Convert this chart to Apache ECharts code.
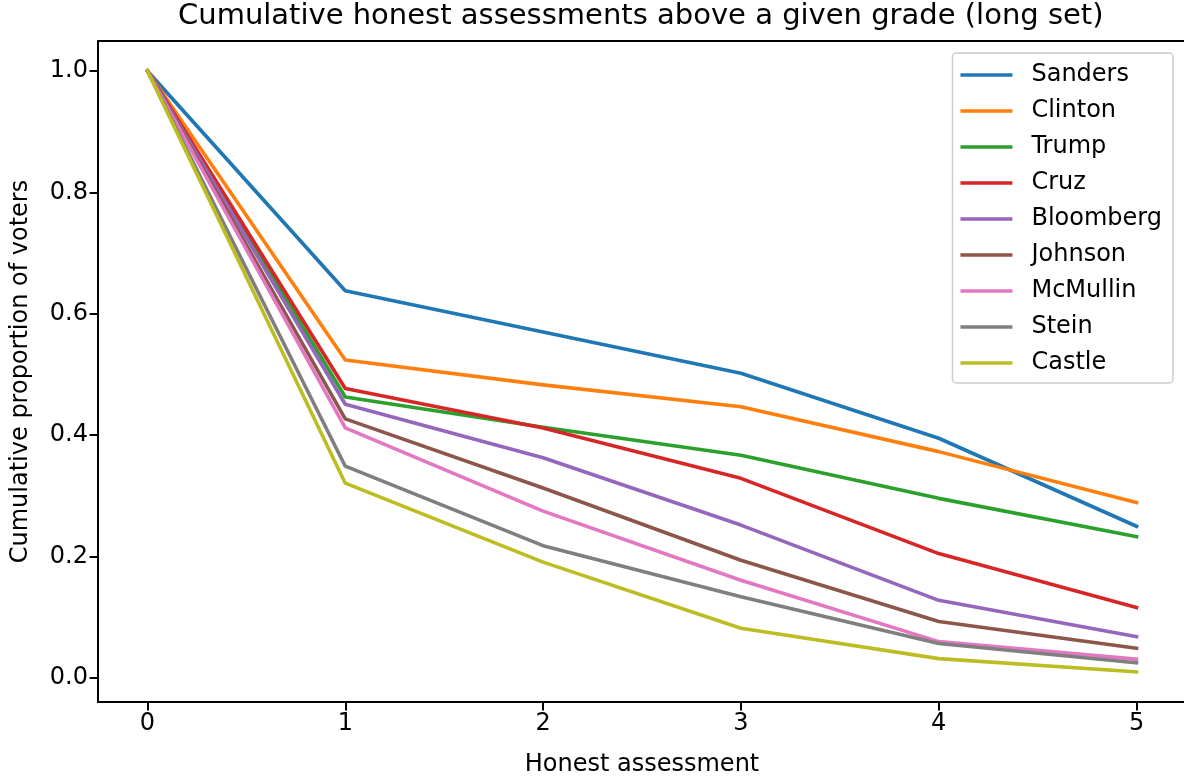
<!DOCTYPE html>
<html>
<head>
<meta charset="utf-8">
<script src="https://cdn.jsdelivr.net/npm/echarts@6/dist/echarts.min.js"></script>
<style>
  html, body { margin: 0; padding: 0; background: #fff; overflow: hidden; }
  #chart { width: 1184px; height: 776px; }
</style>
</head>
<body>
<div id="chart"></div>
<script>
  // grades on the x axis
  var grades = [0, 1, 2, 3, 4, 5]
  var yTicks = [0, 0.2, 0.4, 0.6, 0.8, 1.0]

  var candidates = ['Sanders', 'Clinton', 'Trump', 'Cruz', 'Bloomberg', 'Johnson', 'McMullin', 'Stein', 'Castle']

  var sanders = [1, 0.638, 0.570, 0.502, 0.395, 0.250]
  var clinton = [1, 0.524, 0.483, 0.447, 0.373, 0.289]
  var trump = [1, 0.463, 0.413, 0.367, 0.296, 0.233]
  var cruz = [1, 0.477, 0.412, 0.329, 0.205, 0.116]
  var bloomberg = [1, 0.451, 0.363, 0.252, 0.128, 0.068]
  var johnson = [1, 0.427, 0.313, 0.194, 0.093, 0.049]
  var mcmullin = [1, 0.412, 0.275, 0.161, 0.060, 0.031]
  var stein = [1, 0.349, 0.218, 0.134, 0.057, 0.025]
  var castle = [1, 0.321, 0.191, 0.082, 0.032, 0.010]

  var values = [sanders, clinton, trump, cruz, bloomberg, johnson, mcmullin, stein, castle]
  var colors = ['#1f77b4', '#ff7f0e', '#2ca02c', '#d62728', '#9467bd', '#8c564b', '#e377c2', '#7f7f7f', '#bcbd22']

  var font = 'DejaVu Sans'
  var spine = { show: true, onZero: false, lineStyle: { color: '#000', width: 2 } }
  var tick = { color: '#000', width: 2 }

  var chart = echarts.init(document.getElementById('chart'))

  var series = candidates.map(function (name, i) {
    return {
      name: name,
      type: 'line',
      symbol: 'none',
      color: colors[i],
      lineStyle: { width: 3.6, join: 'round', cap: 'square' },
      data: grades.map(function (g, j) { return [g, values[i][j]] })
    }
  })

  chart.setOption({
    animation: false,
    backgroundColor: '#fff',
    textStyle: { fontFamily: font },
    title: {
      text: 'Cumulative honest assessments above a given grade (long set)',
      left: 178,
      top: 2,
      padding: 0,
      textStyle: { fontFamily: font, fontSize: 29, fontWeight: 'normal', color: '#000' }
    },
    grid: {
      left: 98,
      top: 41,
      width: 1088,
      height: 661,
      show: false,
      containLabel: false,
      outerBoundsMode: 'none'
    },
    legend: {
      orient: 'vertical',
      right: 11,
      top: 53,
      padding: [10, 11, 8, 8],
      itemWidth: 52,
      itemHeight: 3.6,
      itemGap: 12,
      icon: 'rect',
      backgroundColor: 'rgba(255,255,255,0.8)',
      borderColor: '#cccccc',
      borderWidth: 1.5,
      borderRadius: 4,
      textStyle: { fontFamily: font, fontSize: 24, lineHeight: 24, color: '#000', padding: [0, 0, 0, 14] },
      data: candidates
    },
    xAxis: [
      {
        type: 'value',
        position: 'bottom',
        min: -0.25,
        max: 5.25,
        name: 'Honest assessment',
        nameLocation: 'middle',
        nameGap: 51,
        nameTextStyle: { fontFamily: font, fontSize: 24, color: '#000' },
        splitLine: { show: false },
        axisLine: spine,
        axisTick: { show: true, customValues: grades, length: 8.4, lineStyle: tick },
        axisLabel: {
          customValues: grades,
          margin: 10,
          fontFamily: font,
          fontSize: 24,
          color: '#000'
        }
      },
      {
        // top spine only
        type: 'value',
        position: 'top',
        min: -0.25,
        max: 5.25,
        splitLine: { show: false },
        axisLine: spine,
        axisTick: { show: false },
        axisLabel: { show: false }
      }
    ],
    yAxis: {
      type: 'value',
      position: 'left',
      min: -0.0395,
      max: 1.0495,
      name: 'Cumulative proportion of voters',
      nameLocation: 'middle',
      nameGap: 65,
      nameTextStyle: { fontFamily: font, fontSize: 24, color: '#000' },
      splitLine: { show: false },
      axisLine: spine,
      axisTick: { show: true, customValues: yTicks, length: 8.4, lineStyle: tick },
      axisLabel: {
        customValues: yTicks,
        margin: 10,
        fontFamily: font,
        fontSize: 24,
        color: '#000',
        formatter: function (v) { return v.toFixed(1) }
      }
    },
    series: series
  })
</script>
</body>
</html>
